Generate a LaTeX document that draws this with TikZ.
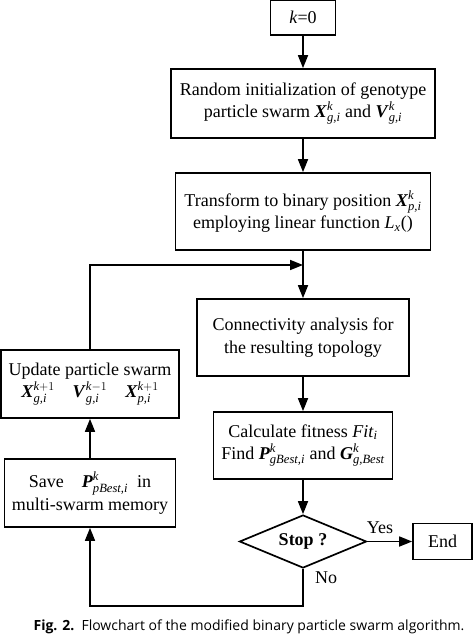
\documentclass[tikz,border=0pt]{standalone}
\usepackage{amsmath}
\usepackage{fontspec}
\setmainfont{Liberation Serif}
\newfontfamily\capfont{Open Sans}
\usetikzlibrary{arrows.meta,shapes.geometric}
\newcommand{\bv}[1]{\textbf{\textit{#1}}}
\newcommand{\ti}[1]{\textit{#1}}
\tikzset{
  box/.style={draw, line width=1.7pt, align=center, inner sep=0pt, font=\fontsize{18}{22.5}\selectfont},
  conn/.style={line width=1.7pt, -{Triangle[length=13pt,width=10pt]}},
  lbl/.style={font=\fontsize{18}{22}\selectfont, inner sep=0pt}
}
\begin{document}
\begin{tikzpicture}[x=1pt,y=-1pt]
\useasboundingbox (0,0) rectangle (474,639);
\node[box, minimum width=65pt, minimum height=35pt] (k0) at (303,17.5) {\ti{k}=0};
\node[box, minimum width=264pt, minimum height=69pt] (b1) at (303,103.5)
  {Random initialization of genotype\\particle swarm $\bv{X}^{\ti{k}}_{\ti{g,i}}$ and $\bv{V}^{\ti{k}}_{\ti{g,i}}$};
\node[box, minimum width=255pt, minimum height=77pt] (b2) at (303,211.5)
  {Transform to binary position $\bv{X}^{\ti{k}}_{\ti{p,i}}$\\employing linear function $\ti{L}_{\ti{x}}$()};
\node[box, minimum width=212pt, minimum height=77pt] (b3) at (303,337.5)
  {Connectivity analysis for\\the resulting topology};
\node[box, minimum width=179pt, minimum height=67pt] (b4) at (303,445.5)
  {Calculate fitness \ti{Fit}$_{\ti{i}}$\\Find $\bv{P}^{\ti{k}}_{\ti{gBest,i}}$ and $\bv{G}^{\ti{k}}_{\ti{g,Best}}$};
\node[box, shape=diamond, aspect=2.4, minimum width=127pt, minimum height=53pt] (st) at (303,541.5)
  {\textbf{Stop ?}};
\node[box, minimum width=59pt, minimum height=36pt] (en) at (442.5,541.5) {End};
\node[box, minimum width=178pt, minimum height=68pt] (up) at (90,384)
  {Update particle swarm\\$\bv{X}^{\ti{k}+1}_{\ti{g,i}}$\quad $\bv{V}^{\ti{k}-1}_{\ti{g,i}}$\quad $\bv{X}^{\ti{k}+1}_{\ti{p,i}}$};
\node[box, minimum width=171pt, minimum height=68pt] (sv) at (90,493)
  {Save\quad $\bv{P}^{\ti{k}}_{\ti{pBest,i}}$\ \ in\\multi-swarm memory};
\coordinate (j) at (303,265);
\coordinate (c1) at (90,265);
\coordinate (c2) at (303,606);
\coordinate (c3) at (90,606);
\draw[conn] (k0) -- (b1);
\draw[conn] (b1) -- (b2);
\draw[conn] (b2) -- (b3);
\draw[conn] (b3) -- (b4);
\draw[conn] (b4) -- (st);
\draw[conn] (st) -- (en);
\draw[conn] (sv) -- (up);
\draw[conn] (up.north) -- (c1) -- (j);
\draw[conn] (st.south) -- (c2) -- (c3) -- (sv.south);
\node[lbl] (yes) at (380,528) {Yes};
\node[lbl] (no) at (326,578) {No};
\node[font=\capfont\fontsize{14}{16}\selectfont, inner sep=0pt] (cap) at (249,627)
  {\textbf{Fig. 2.}\ \ Flowchart of the modified binary particle swarm algorithm.};
\end{tikzpicture}
\end{document}
